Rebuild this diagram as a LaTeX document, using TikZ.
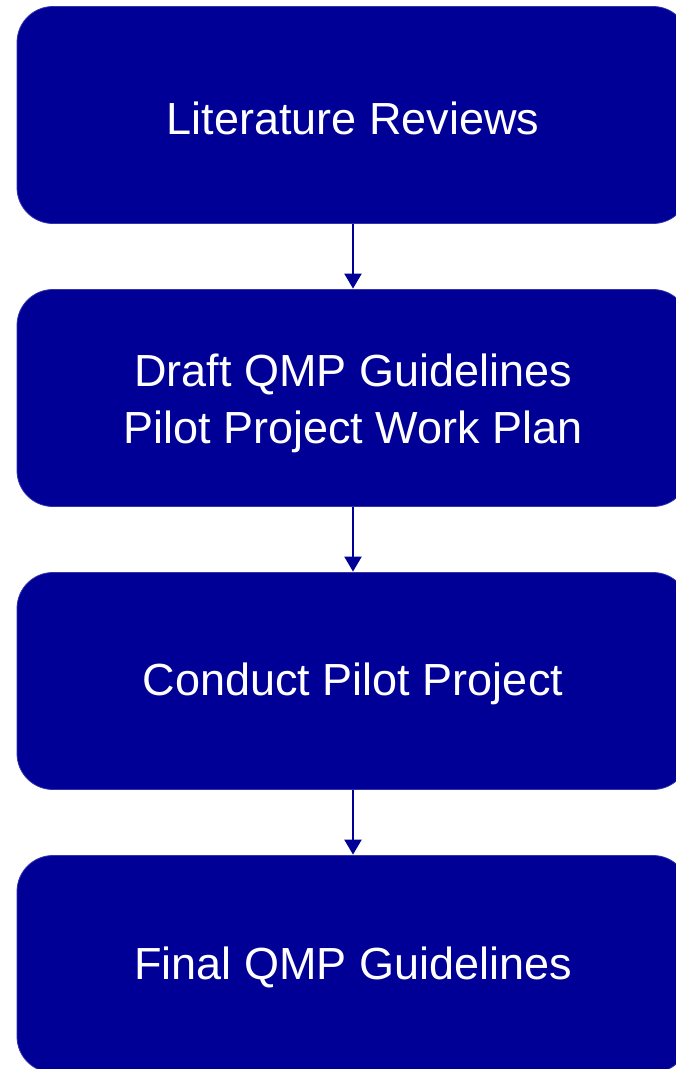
\documentclass[tikz,border=0pt]{standalone}
\usepackage{fontspec}
\setmainfont{Liberation Sans}
\usetikzlibrary{arrows.meta}
\definecolor{boxblue}{RGB}{0,0,150}
\tikzset{
  stepbox/.style={draw=boxblue!80!white, line width=0.8pt, fill=boxblue, rounded corners=36pt,
    minimum width=672pt, minimum height=217pt, text=white, align=center,
    font=\fontsize{45}{57}\selectfont, inner sep=0pt},
  steplabel/.style={text=white, align=center, font=\fontsize{45}{57}\selectfont, inner sep=0pt},
  flow/.style={draw=boxblue, line width=2.2pt, -{Triangle[width=17pt,length=15pt]}, shorten >=0.5pt}
}
\begin{document}
\begin{tikzpicture}[x=1pt,y=1pt]
\useasboundingbox (0,0) rectangle (676,-1069);
\clip (0,0) rectangle (676,-1069);
\node[stepbox] (lit) at (353,-115) {};
\node[stepbox] (draft) at (353,-398) {};
\node[stepbox] (pilot) at (353,-681) {};
\node[stepbox] (final) at (353,-964) {};
\node[steplabel] (litT) at ([yshift=-3pt]lit.center) {Literature Reviews};
\node[steplabel] (draftT) at ([yshift=-5pt]draft.center) {Draft QMP Guidelines\\Pilot Project Work Plan};
\node[steplabel] (pilotT) at ([yshift=-3pt]pilot.center) {Conduct Pilot Project};
\node[steplabel] (finalT) at ([yshift=-3pt]final.center) {Final QMP Guidelines};
\draw[flow] (lit.south) -- (draft.north);
\draw[flow] (draft.south) -- (pilot.north);
\draw[flow] (pilot.south) -- (final.north);
\end{tikzpicture}
\end{document}
